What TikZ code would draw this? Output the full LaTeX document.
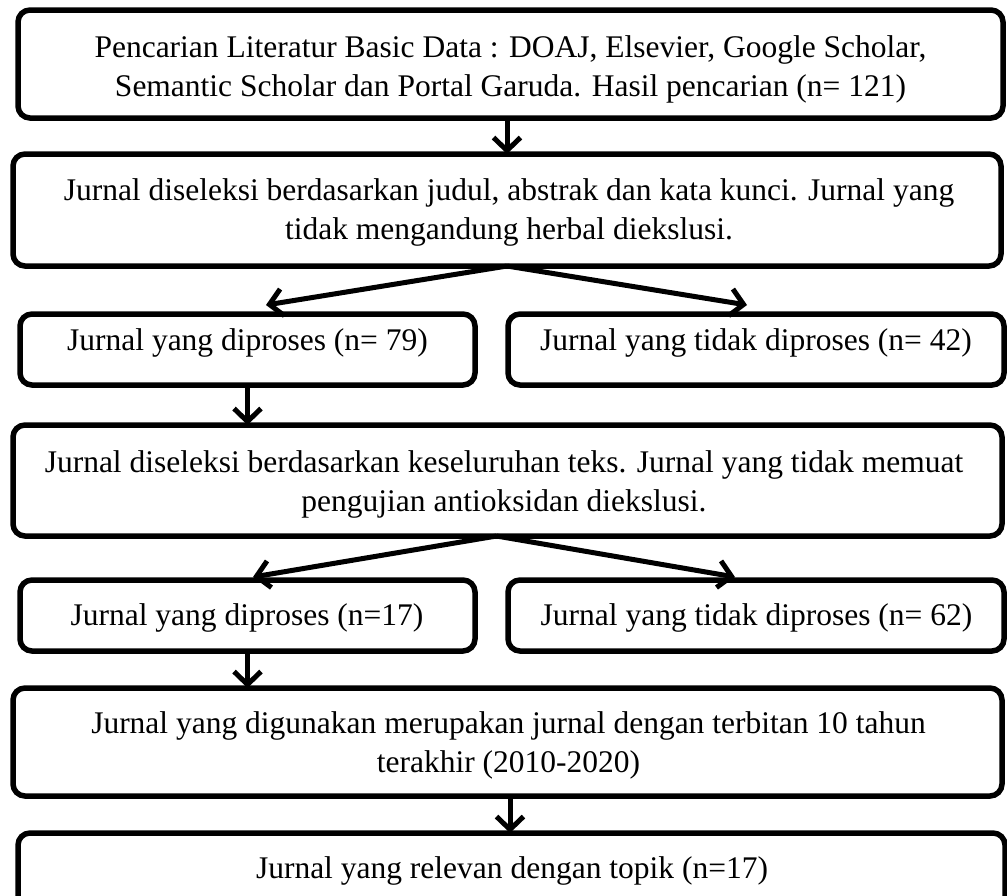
\documentclass[tikz,border=0pt]{standalone}
\usepackage{fontspec}
\setmainfont{Liberation Serif}
\usetikzlibrary{arrows.meta,calc}
\begin{document}
\begin{tikzpicture}[x=1pt,y=-1pt,
  box/.style={draw, line width=5.5pt, rounded corners=12pt, inner sep=0pt, outer sep=0pt},
  txt/.style={font=\fontsize{31.5}{39}\selectfont, align=center, inner sep=0pt},
  arr/.style={line width=5pt, -{Straight Barb[length=13pt,width=27pt]}}]
\useasboundingbox (0,0) rectangle (1007,895);
\clip (0,0) rectangle (1007,895);
% boxes
\node[box, minimum width=985pt, minimum height=108pt] (b1) at (510.5,64) {};
\node[box, minimum width=988pt, minimum height=112pt] (b2) at (507,210) {};
\node[box, minimum width=455pt, minimum height=71pt] (b3) at (247.5,349.5) {};
\node[box, minimum width=496pt, minimum height=71pt] (b4) at (756,349.5) {};
\node[box, minimum width=989pt, minimum height=111pt] (b5) at (507.5,480.5) {};
\node[box, minimum width=455pt, minimum height=71pt] (b6) at (247.5,615.5) {};
\node[box, minimum width=496pt, minimum height=71pt] (b7) at (756,615.5) {};
\node[box, minimum width=989pt, minimum height=108pt] (b8) at (507.5,742) {};
\node[box, minimum width=987pt, minimum height=82pt] (b9) at (511.5,874) {};
% texts
\node[txt] (t1) at (510.5,69.4) {Pencarian Literatur Basic Data : DOAJ, Elsevier, Google Scholar,\\Semantic Scholar dan Portal Garuda. Hasil pencarian (n= 121)};
\node[txt] (t2) at (509,212) {Jurnal diseleksi berdasarkan judul, abstrak dan kata kunci. Jurnal yang\\tidak mengandung herbal diekslusi.};
\node[txt] (t3) at (247.5,342.6) {Jurnal yang diproses (n= 79)};
\node[txt] (t4) at (756,342.6) {Jurnal yang tidak diproses (n= 42)};
\node[txt] (t5) at (504,484.4) {Jurnal diseleksi berdasarkan keseluruhan teks. Jurnal yang tidak memuat\\pengujian antioksidan diekslusi.};
\node[txt] (t6) at (247,617.6) {Jurnal yang diproses (n=17)};
\node[txt] (t7) at (756.5,617.6) {Jurnal yang tidak diproses (n= 62)};
\node[txt] (t8) at (508.5,745.7) {Jurnal yang digunakan merupakan jurnal dengan terbitan 10 tahun\\terakhir (2010-2020)};
\node[txt] (t9) at (512,870.6) {Jurnal yang relevan dengan topik (n=17)};
% connector ends
\coordinate (e3) at (266,305);
\coordinate (e4) at (747,305);
\coordinate (j2) at ($(b5.south)+(-11,0)$);
\coordinate (e6) at (253,577);
\coordinate (e7) at (735,577);
\coordinate (j3) at ($(b8.south)+(2.5,0)$);
% connectors
\draw[arr] (b2.north |- b1.south) -- (b2.north);
\draw[arr] (b2.south) -- (e3);
\draw[arr] (b2.south) -- (e4);
\draw[arr] (b3.south) -- (b3.south |- b5.north);
\draw[arr] (j2) -- (e6);
\draw[arr] (j2) -- (e7);
\draw[arr] (b6.south) -- (b6.south |- b8.north);
\draw[arr] (j3) -- (j3 |- b9.north);
\end{tikzpicture}
\end{document}
